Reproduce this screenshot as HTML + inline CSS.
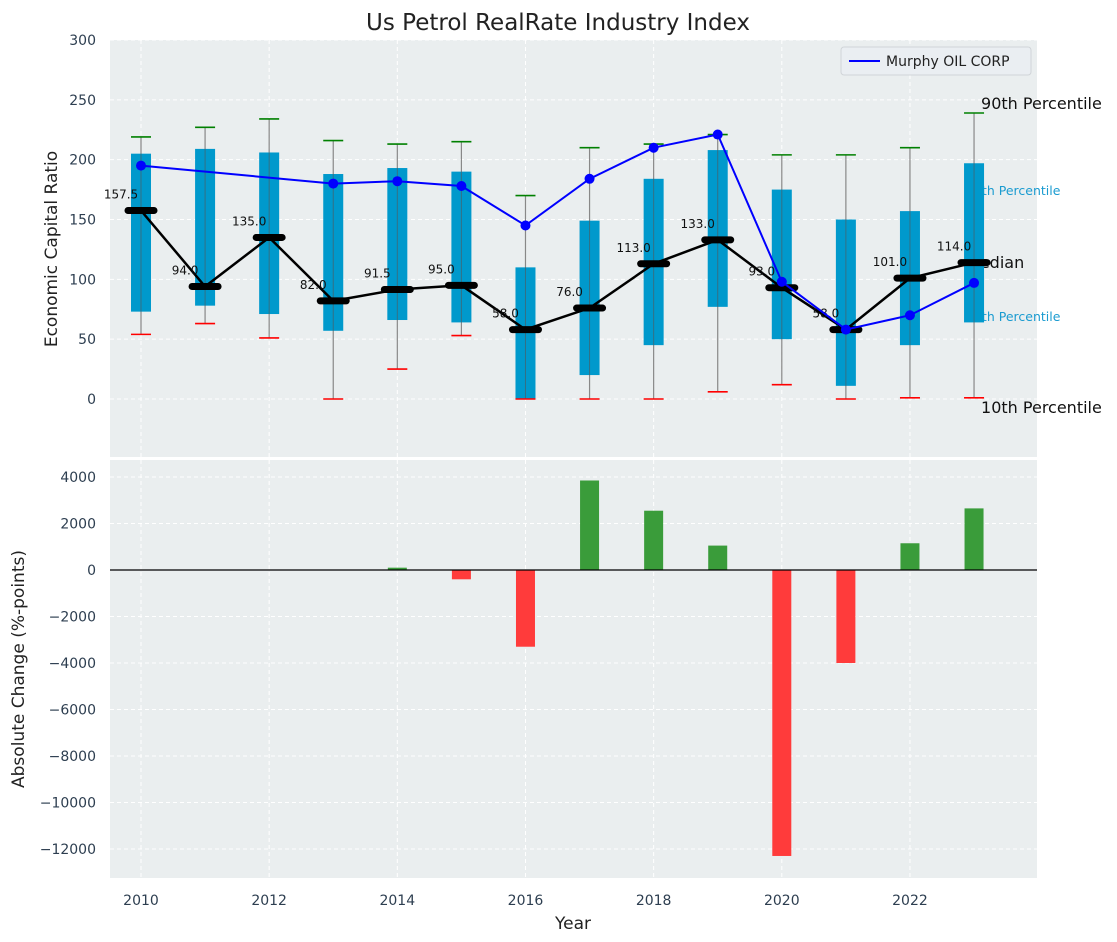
<!DOCTYPE html>
<html><head><meta charset="utf-8">
<style>
html,body{margin:0;padding:0;background:#fff;}
svg{display:block;font-family:"DejaVu Sans","Liberation Sans",sans-serif;}
</style></head>
<body>
<svg id="chart" width="1117" height="942" viewBox="0 0 1117 942" xmlns="http://www.w3.org/2000/svg">
<text x="558" y="30" text-anchor="middle" font-size="23" fill="#222">Us Petrol RealRate Industry Index</text>
<rect x="110" y="40" width="927" height="417" fill="#eaeeef"/>
<rect x="110" y="460" width="927" height="418" fill="#eaeeef"/>
<g id="grid"></g>
<g id="top"></g>
<g id="bottom"></g>
<g id="axes"></g>
<text transform="translate(57,249) rotate(-90)" text-anchor="middle" font-size="17" fill="#222">Economic Capital Ratio</text>
<text transform="translate(24,669) rotate(-90)" text-anchor="middle" font-size="17" fill="#222">Absolute Change (%-points)</text>
<text x="573" y="929" text-anchor="middle" font-size="17" fill="#222">Year</text>
<g>
<rect x="841" y="47" width="190" height="28" rx="3" fill="#eaeef2" stroke="#d0d4d8"/>
<line x1="849" y1="61" x2="880" y2="61" stroke="#0000ff" stroke-width="2"/>
<text x="886" y="66" font-size="14" fill="#222">Murphy OIL CORP</text>
</g>
</svg>
<script>
const years=[2010,2011,2012,2013,2014,2015,2016,2017,2018,2019,2020,2021,2022,2023];
const p90=[219,227,234,216,213,215,170,210,213,221,204,204,210,239];
const p75=[205,209,206,188,193,190,110,149,184,208,175,150,157,197];
const median=[157.5,94,135,82,91.5,95,58,76,113,133,93,58,101,114];
const p25=[73,78,71,57,66,64,0,20,45,77,50,11,45,64];
const p10=[54,63,51,0,25,53,0,0,0,6,12,0,1,1];
const companyYears=[2010,2013,2014,2015,2016,2017,2018,2019,2020,2021,2022,2023];
const companyVals=[195,180,182,178,145,184,210,221,98,58,70,97];
const changeYears=[2014,2015,2016,2017,2018,2019,2020,2021,2022,2023];
const changeVals=[100,-400,-3300,3850,2550,1050,-12300,-4000,1150,2650];
const topTicks=[0,50,100,150,200,250,300];
const botTicks=[-12000,-10000,-8000,-6000,-4000,-2000,0,2000,4000];
const xTicks=[2010,2012,2014,2016,2018,2020,2022];

const NS="http://www.w3.org/2000/svg";
const X=y=>141+(y-2010)*64.08;
const YT=v=>399-v*1.1967;
const YB=v=>570-v*0.02325;
function mk(parent,tag,attrs){const e=document.createElementNS(NS,tag);for(const k in attrs)e.setAttribute(k,attrs[k]);document.getElementById(parent).appendChild(e);return e;}

xTicks.forEach(t=>{
  let l=mk('grid','line',{x1:X(t),x2:X(t),y1:40,y2:457,stroke:'#fff','stroke-dasharray':'4,3'});
  
  
  l=mk('grid','line',{x1:X(t),x2:X(t),y1:460,y2:878,stroke:'#fff','stroke-dasharray':'4,3'});
  
  
  const tx=mk('axes','text',{x:X(t),y:905,'text-anchor':'middle','font-size':14,fill:'#2d3e50'});
  tx.textContent=t;
  
  
});
topTicks.forEach(t=>{
  const l=mk('grid','line',{x1:110,x2:1037,y1:YT(t),y2:YT(t),stroke:'#fff','stroke-dasharray':'4,3'});
  
  
  const tx=mk('axes','text',{x:96,y:YT(t)+5,'text-anchor':'end','font-size':14,fill:'#2d3e50'});
  tx.textContent=t;
  
  
});
botTicks.forEach(t=>{
  const l=mk('grid','line',{x1:110,x2:1037,y1:YB(t),y2:YB(t),stroke:'#fff','stroke-dasharray':'4,3'});
  
  
  const tx=mk('axes','text',{x:96,y:YB(t)+5,'text-anchor':'end','font-size':14,fill:'#2d3e50'});
  tx.textContent=t<0?'\u2212'+(-t):t;
  
  
});

const lx=X(2023);
[['75th Percentile',195,'percentile-75-label'],['25th Percentile',321,'percentile-25-label']].forEach(d=>{
  const t=mk('top','text',{x:lx-8,y:d[1],'font-size':12.5,fill:'#1a9bd0'});t.textContent=d[0];
  
  
});
let t=mk('top','text',{x:lx-8,y:268,'font-size':16,fill:'#111'});t.textContent='Median';



years.forEach((y,i)=>{
  const x=X(y);
  let l=mk('top','line',{x1:x,x2:x,y1:YT(p10[i]),y2:YT(p90[i]),stroke:'#888','stroke-width':1.2});
  
  
  const r=mk('top','rect',{x:x-10,y:YT(p75[i]),width:20,height:YT(p25[i])-YT(p75[i]),fill:'#0099cc'});
  
  
  l=mk('top','line',{x1:x,x2:x,y1:YT(p25[i]),y2:YT(p75[i]),stroke:'#555','stroke-width':1,opacity:0.6});
  
  
  l=mk('top','line',{x1:x-10,x2:x+10,y1:YT(p90[i]),y2:YT(p90[i]),stroke:'#008000','stroke-width':1.6});
  
  
  l=mk('top','line',{x1:x-10,x2:x+10,y1:YT(p10[i]),y2:YT(p10[i]),stroke:'#ff0000','stroke-width':1.6});
  
  
});
const mp=mk('top','polyline',{points:years.map((y,i)=>X(y)+','+YT(median[i])).join(' '),fill:'none',stroke:'#000','stroke-width':2.5});


years.forEach((y,i)=>{
  const l=mk('top','line',{x1:X(y)-13,x2:X(y)+13,y1:YT(median[i]),y2:YT(median[i]),stroke:'#000','stroke-width':7,'stroke-linecap':'round'});
  
  
  const tx=mk('top','text',{x:X(y)-20,y:YT(median[i])-12,'text-anchor':'middle','font-size':12,fill:'#111'});
  tx.textContent=median[i].toFixed(1);
  
  
});
const cp=mk('top','polyline',{points:companyYears.map((y,i)=>X(y)+','+YT(companyVals[i])).join(' '),fill:'none',stroke:'#0000ff','stroke-width':2});


companyYears.forEach((y,i)=>{
  const c=mk('top','circle',{cx:X(y),cy:YT(companyVals[i]),r:5,fill:'#0000ff'});
  
  
});
t=mk('top','text',{x:lx+7,y:109,'font-size':16,fill:'#111'});t.textContent='90th Percentile';


t=mk('top','text',{x:lx+7,y:413,'font-size':16,fill:'#111'});t.textContent='10th Percentile';



changeYears.forEach((y,i)=>{
  const v=changeVals[i];
  const y0=YB(Math.max(v,0)),h=Math.abs(YB(v)-YB(0));
  const r=mk('bottom','rect',{x:X(y)-9.5,y:y0,width:19,height:h,fill:v>=0?'#3a9c3a':'#ff3b3b'});
  
  
});
const z=mk('bottom','line',{x1:110,x2:1037,y1:YB(0),y2:YB(0),stroke:'#000','stroke-width':1.2});


</script>
</body></html>
